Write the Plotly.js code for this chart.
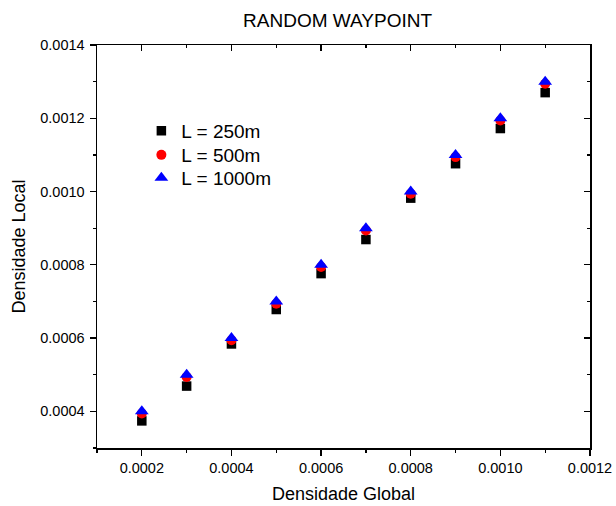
<!DOCTYPE html>
<html>
<head>
<meta charset="utf-8">
<script src="https://cdn.plot.ly/plotly-3.0.1.min.js"></script>
<style>html,body{margin:0;padding:0;background:#fff;}#chart{width:616px;height:506px;}</style>
</head>
<body>
<div id="chart"></div>
<script>
const densGlobal = [0.0002, 0.0003, 0.0004, 0.0005, 0.0006, 0.0007, 0.0008, 0.0009, 0.0010, 0.0011];
const local250  = [0.000374, 0.000469, 0.000584, 0.000678, 0.000776, 0.000869, 0.000982, 0.001076, 0.001172, 0.001270];
const local500  = [0.000394, 0.000494, 0.000594, 0.000694, 0.000794, 0.000894, 0.000994, 0.001094, 0.001194, 0.001294];
const local1000 = [0.000400, 0.000500, 0.000600, 0.000700, 0.000800, 0.000900, 0.001000, 0.001100, 0.001200, 0.001300];
const seriesNames = ["L = 250m", "L = 500m", "L = 1000m"];
const xTickVals = [0.0002, 0.0004, 0.0006, 0.0008, 0.0010, 0.0012];
const xTickText = ["0.0002", "0.0004", "0.0006", "0.0008", "0.0010", "0.0012"];
const yTickVals = [0.0004, 0.0006, 0.0008, 0.0010, 0.0012, 0.0014];
const yTickText = ["0.0004", "0.0006", "0.0008", "0.0010", "0.0012", "0.0014"];

const FONT = "Arial, 'Liberation Sans', sans-serif";
const xRange = [0.0001, 0.0012];
const yRange = [0.0003, 0.0014];

const traces = [
  {x: densGlobal, y: local250, name: seriesNames[0], type: 'scatter', mode: 'markers', legend: 'legend',
   marker: {symbol: 'square', size: 9.5, color: '#000000'}},
  {x: densGlobal, y: local500, name: seriesNames[1], type: 'scatter', mode: 'markers', legend: 'legend2',
   marker: {symbol: 'circle', size: 10, color: '#ff0000'}},
  {x: densGlobal, y: local1000, name: seriesNames[2], type: 'scatter', mode: 'markers', legend: 'legend3',
   marker: {symbol: 'triangle-up', size: 12, color: '#0000ff'}}
];

const baseAxis = {
  showgrid: false, zeroline: false, showline: true, linecolor: '#000', linewidth: 1.5,
  tickcolor: '#000', tickwidth: 1.2, ticklen: 6,
  tickfont: {family: FONT, size: 14.5, color: '#000'}
};

function legendAt(yPaper) {
  return {x: 0.09, y: yPaper, xanchor: 'left', yanchor: 'middle', bgcolor: 'rgba(0,0,0,0)',
          font: {family: FONT, size: 19, color: '#000'}, itemwidth: 30};
}

const layout = {
  width: 616, height: 506,
  margin: {l: 97, r: 26, t: 45, b: 58},
  paper_bgcolor: '#fff', plot_bgcolor: '#fff',
  font: {family: FONT, color: '#000'},
  title: {text: 'RANDOM WAYPOINT', font: {family: FONT, size: 19, color: '#000'},
          x: 0.548, xanchor: 'center', y: 0.96, yanchor: 'middle'},
  showlegend: true,
  legend: legendAt(0.787),
  legend2: legendAt(0.727),
  legend3: legendAt(0.670),
  xaxis: Object.assign({}, baseAxis, {
    range: xRange, ticks: 'outside', tickvals: xTickVals, ticktext: xTickText,
    minor: {dtick: 0.0001, tick0: 0.0001, ticks: 'outside', ticklen: 3, tickcolor: '#000', tickwidth: 1.2},
    title: {text: 'Densidade Global', font: {family: FONT, size: 18, color: '#000'}, standoff: 12}
  }),
  yaxis: Object.assign({}, baseAxis, {
    range: yRange, ticks: 'outside', tickvals: yTickVals, ticktext: yTickText,
    ticklabelstandoff: 2,
    minor: {dtick: 0.0001, tick0: 0.0001, ticks: 'outside', ticklen: 3, tickcolor: '#000', tickwidth: 1.2},
    title: {text: 'Densidade Local', font: {family: FONT, size: 18, color: '#000'}, standoff: 10}
  }),
  xaxis2: Object.assign({}, baseAxis, {
    range: xRange, overlaying: 'x', side: 'top', anchor: 'y', ticks: 'inside',
    tickvals: xTickVals, showticklabels: false,
    minor: {dtick: 0.0001, tick0: 0.0001, ticks: 'inside', ticklen: 3, tickcolor: '#000', tickwidth: 1.2}
  }),
  yaxis2: Object.assign({}, baseAxis, {
    range: yRange, overlaying: 'y', side: 'right', anchor: 'x', ticks: 'inside',
    tickvals: yTickVals, showticklabels: false,
    minor: {dtick: 0.0001, tick0: 0.0001, ticks: 'inside', ticklen: 3, tickcolor: '#000', tickwidth: 1.2}
  })
};

// invisible helper trace so the mirrored frame axes are drawn
traces.push({x: [xRange[0]], y: [yRange[0]], xaxis: 'x2', yaxis: 'y2', type: 'scatter', mode: 'markers',
  marker: {opacity: 0}, showlegend: false, hoverinfo: 'skip'});

Plotly.newPlot('chart', traces, layout, {displayModeBar: false, staticPlot: true});
</script>
</body>
</html>
